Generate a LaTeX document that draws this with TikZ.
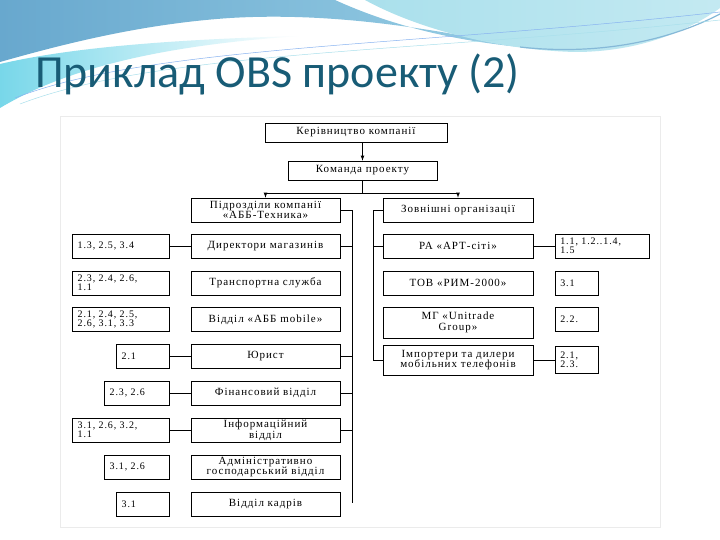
\documentclass[tikz,border=0pt]{standalone}
\usepackage{fontspec}
\setmainfont{Liberation Serif}
\newfontfamily\titlefont{Carlito}
\newfontfamily\boxfont[LetterSpace=9]{Liberation Serif}
\usepackage{tikz}
\usetikzlibrary{shapes,arrows,positioning,calc}

\definecolor{hdrblue}{RGB}{104,168,206}
\definecolor{hdrlight}{RGB}{150,205,228}
\definecolor{hdrcyan}{RGB}{170,224,236}
\definecolor{titleteal}{RGB}{24,92,118}

\begin{document}
\begin{tikzpicture}[x=1pt,y=-1pt,
  unitbox/.style={draw,line width=0.7pt,minimum width=149,minimum height=24,inner sep=1pt,align=center,font=\boxfont\fontsize{11}{10.5}\selectfont},
  codebox/.style={draw,line width=0.7pt,minimum height=24,text width=#1,inner xsep=5pt,inner ysep=1pt,align=left,font=\boxfont\fontsize{10}{9.5}\selectfont},
  link/.style={line width=0.7pt}]
\useasboundingbox (0,0) rectangle (720,540);
\fill[white] (0,0) rectangle (720,540);

% header waves
\shade[left color=hdrblue,right color=hdrlight] (0,0) -- (335,0) .. controls (390,25) and (450,40) .. (520,47)
  .. controls (430,28) and (330,12) .. (230,18) .. controls (140,24) and (60,45) .. (0,62) -- cycle;
\shade[left color=hdrcyan,right color=hdrcyan!70!white] (365,0) .. controls (420,30) and (500,50) .. (575,52)
  .. controls (640,52) and (690,30) .. (720,8) -- (720,0) -- cycle;
\shade[left color=hdrlight!80!cyan,right color=white] (0,64) .. controls (60,50) and (150,40) .. (300,36)
  .. controls (150,46) and (60,72) .. (0,108) -- cycle;
\draw[hdrblue!80,line width=1.2pt] (520,47) .. controls (600,56) and (670,40) .. (720,14);
\draw[hdrcyan!80!blue,line width=0.5pt] (15,98) .. controls (150,45) and (420,46) .. (720,12);
\draw[hdrcyan,line width=0.5pt] (20,104) .. controls (160,50) and (430,52) .. (720,20);

\node[anchor=base west,text=titleteal,font=\titlefont\fontsize{46}{50}\selectfont,inner sep=0pt] (title) at (35,88) {Приклад OBS проекту (2)};

% diagram frame
\draw[black!8] (60,116) rectangle (660,527);

% top levels
\node[unitbox,minimum width=182,minimum height=19] (kerivn) at (356,132.5) {Керівництво компанії};
\node[unitbox,minimum width=149,minimum height=19] (komanda) at (362.5,170.5) {Команда проекту};
\node[unitbox] (pidr) at (265.5,210) {Підрозділи компанії\\«АББ-Техника»};
\node[unitbox,minimum width=150] (zovn) at (458,210) {Зовнішні організації};

% company units
\node[unitbox] (dir) at (265.5,246) {Директори магазинів};
\node[unitbox] (trans) at (265.5,283) {Транспортна служба};
\node[unitbox] (mob) at (265.5,319.5) {Відділ «АББ mobile»};
\node[unitbox] (yur) at (265.5,356) {Юрист};
\node[unitbox] (fin) at (265.5,393) {Фінансовий відділ};
\node[unitbox] (inf) at (265.5,430) {Інформаційний\\відділ};
\node[unitbox] (adm) at (265.5,467) {Адміністративно\\господарський відділ};
\node[unitbox] (kadr) at (265.5,504) {Відділ кадрів};

% external units
\node[unitbox,minimum width=150] (art) at (458,246) {РА «АРТ-сіті»};
\node[unitbox,minimum width=150] (rym) at (458,283) {ТОВ «РИМ-2000»};
\node[unitbox,minimum width=150,minimum height=31] (unitr) at (458,322.5) {МГ «Unitrade\\Group»};
\node[unitbox,minimum width=150,minimum height=30] (imp) at (458,360) {Імпортери та дилери\\мобільних телефонів};

% work codes
\node[codebox=87,anchor=east] (c-dir) at (170,246) {1.3, 2.5, 3.4};
\node[codebox=87,anchor=east] (c-trans) at (170,283) {2.3, 2.4, 2.6,\\1.1};
\node[codebox=87,anchor=east] (c-mob) at (170,319.5) {2.1, 2.4, 2.5,\\2.6, 3.1, 3.3};
\node[codebox=43,anchor=east] (c-yur) at (170,356) {2.1};
\node[codebox=55,anchor=east] (c-fin) at (170,393) {2.3, 2.6};
\node[codebox=87,anchor=east] (c-inf) at (170,430) {3.1, 2.6, 3.2,\\1.1};
\node[codebox=55,anchor=east] (c-adm) at (170,467) {3.1, 2.6};
\node[codebox=43,anchor=east] (c-kadr) at (170,504) {3.1};
\node[codebox=84,anchor=west] (c-art) at (555,246) {1.1, 1.2..1.4,\\1.5};
\node[codebox=33,anchor=west] (c-rym) at (555,283) {3.1};
\node[codebox=33,anchor=west] (c-unitr) at (555,319.5) {2.2.};
\node[codebox=33,anchor=west,minimum height=27] (c-imp) at (555,360) {2.1,\\2.3.};

% connectors
\coordinate (split) at (362.5,193);
\coordinate (lbot) at (352,503);
\coordinate (rtop) at (373,210);
\draw[link,-latex] (komanda.north |- kerivn.south) -- (komanda.north);
\draw[link] (komanda.south) -- (split);
\draw[link,-latex] (split) -| (pidr.north);
\draw[link,-latex] (split) -| (zovn.north);
\draw[link] (pidr.east) -| (lbot);
\foreach \u in {dir,yur,fin,inf} {
  \draw[link] (\u.east) -- (\u.east -| lbot);
  \draw[link] (c-\u.east) -- (\u.west);
}
\draw[link] (zovn.west) -- (rtop) |- (imp.west);
\draw[link] (art.west) -- (art.west -| rtop);
\draw[link] (art.east) -- (c-art.west);
\draw[link] (imp.east) -- (c-imp.west);
\end{tikzpicture}
\end{document}
